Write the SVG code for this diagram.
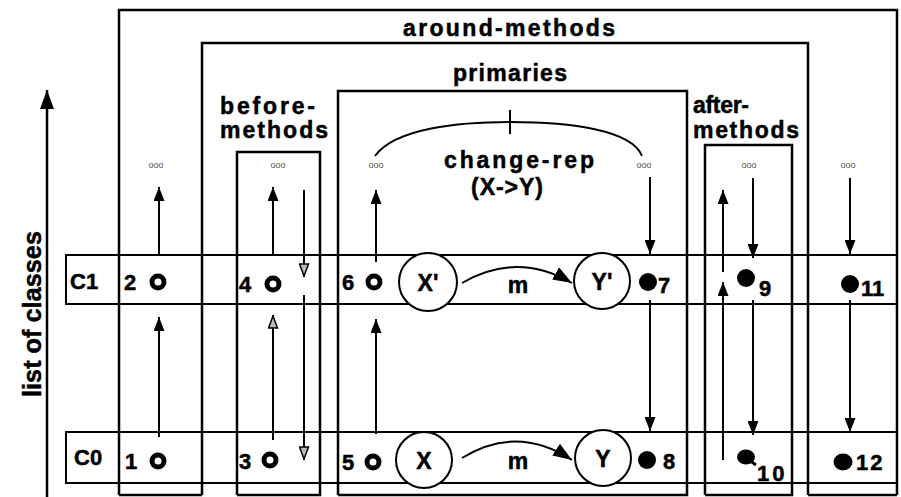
<svg xmlns="http://www.w3.org/2000/svg" width="901" height="497" viewBox="0 0 901 497">
<style>
  .box{fill:none;stroke:#000;stroke-width:2.5}
  .row{fill:none;stroke:#000;stroke-width:2}
  .t{font-family:"Liberation Sans",Arial,sans-serif;font-weight:bold;fill:#000;stroke:#000;stroke-width:0.5}
  .lbl{font-size:23px}
  .num{font-size:22px}
  .dots{font-family:"Liberation Sans",Arial,sans-serif;font-size:9px;fill:#555}
  .ar{stroke:#000;stroke-width:2;fill:none}
  .ring{fill:#fff;stroke:#000;stroke-width:5}
  .big{fill:#fff;stroke:#000;stroke-width:2}
</style>
<defs>
  <marker id="ah" markerUnits="userSpaceOnUse" markerWidth="14" markerHeight="11" refX="14" refY="5.5" orient="auto">
    <path d="M0,0 L14,5.5 L0,11 z" fill="#000"/>
  </marker>
  <marker id="ahh" markerUnits="userSpaceOnUse" markerWidth="14" markerHeight="11" refX="14" refY="5.5" orient="auto">
    <path d="M1,1 L13,5.5 L1,10 z" fill="#bbb" stroke="#000" stroke-width="1.5"/>
  </marker>
  <marker id="ahb" markerUnits="userSpaceOnUse" markerWidth="19" markerHeight="14" refX="19" refY="7" orient="auto">
    <path d="M0,0 L19,7 L0,14 z" fill="#000"/>
  </marker>
</defs>
<rect width="901" height="497" fill="#fff"/>

<g id="axis">
  <line x1="47" y1="497" x2="47" y2="90" stroke="#000" stroke-width="2.5" marker-end="url(#ahb)"/>
  <text class="t" font-size="25" transform="translate(41,314) rotate(-90)" text-anchor="middle" textLength="166" lengthAdjust="spacingAndGlyphs">list of classes</text>
</g>

<g id="around-methods">
  <path class="box" d="M119,495 V10 H897 V495 M119,495 H202 M808,495 H897"/>
  <path class="box" d="M202,495 V43 H808 V495"/>
  <text class="t" font-size="23" x="403" y="36" textLength="212" lengthAdjust="spacing">around-methods</text>
</g>

<g id="primaries">
  <path class="box" d="M338,495 V91 H687 V495 H338"/>
  <text class="t" font-size="23" x="453" y="81" textLength="114" lengthAdjust="spacing">primaries</text>
</g>

<g id="before-methods">
  <path class="box" d="M237,495 V152 H320 V495 H237"/>
  <text class="t lbl" x="220" y="114" textLength="95" lengthAdjust="spacing">before-</text>
  <text class="t lbl" x="220" y="138" textLength="108" lengthAdjust="spacing">methods</text>
</g>

<g id="after-methods">
  <path class="box" d="M705,495 V145 H792 V495 H705"/>
  <text class="t lbl" x="693" y="113" textLength="56" lengthAdjust="spacing">after-</text>
  <text class="t lbl" x="693" y="138" textLength="106" lengthAdjust="spacing">methods</text>
</g>

<g id="rows">
  <rect class="row" x="66" y="255" width="831" height="49"/>
  <rect class="row" x="66" y="432" width="831" height="51"/>
  <text class="t num" x="70" y="289">C1</text>
  <text class="t num" x="74" y="465">C0</text>
</g>

<g id="change-rep">
  <path d="M375,156 C395,128 460,122 510,122 C570,122 632,130 642,156" fill="none" stroke="#000" stroke-width="1.8"/>
  <line x1="510" y1="110" x2="510" y2="134" stroke="#000" stroke-width="2"/>
  <text class="t" font-size="23" x="519" y="168" text-anchor="middle" textLength="150" lengthAdjust="spacing">change-rep</text>
  <text class="t" font-size="23" x="507" y="195" text-anchor="middle" textLength="72" lengthAdjust="spacing">(X-&gt;Y)</text>
</g>

<g id="ellipses">
  <text class="dots" x="156" y="168" text-anchor="middle">ooo</text>
  <text class="dots" x="278" y="168" text-anchor="middle">ooo</text>
  <text class="dots" x="376" y="168" text-anchor="middle">ooo</text>
  <text class="dots" x="644" y="168" text-anchor="middle">ooo</text>
  <text class="dots" x="749" y="168" text-anchor="middle">ooo</text>
  <text class="dots" x="848" y="168" text-anchor="middle">ooo</text>
</g>

<g id="connectors">
  <line class="ar" x1="159" y1="256" x2="159" y2="187" marker-end="url(#ah)"/>
  <line class="ar" x1="159" y1="437" x2="159" y2="317" marker-end="url(#ah)"/>
  <line class="ar" x1="273" y1="256" x2="273" y2="187" marker-end="url(#ah)"/>
  <line class="ar" x1="273" y1="440" x2="273" y2="315" marker-end="url(#ahh)"/>
  <line class="ar" x1="304" y1="190" x2="304" y2="277" marker-end="url(#ahh)"/>
  <line class="ar" x1="304" y1="295" x2="304" y2="460" marker-end="url(#ahh)"/>
  <line class="ar" x1="376" y1="262" x2="376" y2="190" marker-end="url(#ah)"/>
  <line class="ar" x1="376" y1="434" x2="376" y2="319" marker-end="url(#ah)"/>
  <line class="ar" x1="650" y1="177" x2="650" y2="254" marker-end="url(#ah)"/>
  <line class="ar" x1="650" y1="300" x2="650" y2="431" marker-end="url(#ah)"/>
  <line class="ar" x1="723" y1="272" x2="723" y2="190" marker-end="url(#ah)"/>
  <line class="ar" x1="723" y1="460" x2="723" y2="282" marker-end="url(#ah)"/>
  <line class="ar" x1="753" y1="178" x2="753" y2="258" marker-end="url(#ah)"/>
  <line class="ar" x1="753" y1="300" x2="753" y2="435" marker-end="url(#ah)"/>
  <line class="ar" x1="850" y1="178" x2="850" y2="254" marker-end="url(#ah)"/>
  <line class="ar" x1="850" y1="300" x2="850" y2="432" marker-end="url(#ah)"/>
  <path class="ar" d="M462,283 Q517,251 572,283" marker-end="url(#ahb)"/>
  <path class="ar" d="M462,458 Q517,424 572,460" marker-end="url(#ahb)"/>
</g>

<g id="n2"><circle class="ring" cx="158" cy="282" r="6"/><text class="t num" x="124" y="290">2</text></g>
<g id="n1"><circle class="ring" cx="158" cy="461" r="6"/><text class="t num" x="125" y="469">1</text></g>
<g id="n4"><circle class="ring" cx="273" cy="284" r="6"/><text class="t num" x="239" y="292">4</text></g>
<g id="n3"><circle class="ring" cx="270" cy="460" r="6"/><text class="t num" x="239" y="469">3</text></g>
<g id="n6"><circle class="ring" cx="374" cy="282" r="6"/><text class="t num" x="342" y="290">6</text></g>
<g id="n5"><circle class="ring" cx="373" cy="462" r="6"/><text class="t num" x="342" y="470">5</text></g>

<g id="Xp"><circle class="big" cx="428" cy="282" r="29"/><text class="t lbl" x="428" y="291" text-anchor="middle">X'</text></g>
<g id="X"><circle class="big" cx="424" cy="460" r="28"/><text class="t lbl" x="424" y="469" text-anchor="middle">X</text></g>
<g id="Yp"><circle class="big" cx="602" cy="281" r="28"/><text class="t lbl" x="602" y="290" text-anchor="middle">Y'</text></g>
<g id="Y"><circle class="big" cx="603" cy="458" r="28"/><text class="t lbl" x="603" y="467" text-anchor="middle">Y</text></g>
<g id="m1"><text class="t lbl" x="518" y="293" text-anchor="middle">m</text></g>
<g id="m0"><text class="t lbl" x="518" y="469" text-anchor="middle">m</text></g>

<g id="n7"><circle cx="648" cy="282" r="9" fill="#000"/><text class="t num" x="658" y="293">7</text></g>
<g id="n8"><circle cx="647" cy="460" r="9" fill="#000"/><text class="t num" x="663" y="469">8</text></g>
<g id="n9"><circle cx="746" cy="278" r="9" fill="#000"/><text class="t num" x="759" y="296">9</text></g>
<g id="n10"><ellipse cx="746" cy="457" rx="9" ry="7.5" fill="#000"/><path d="M749,460 L756,465" stroke="#000" stroke-width="3"/><text class="t num" x="757" y="481" letter-spacing="3">10</text></g>
<g id="n11"><circle cx="850" cy="284" r="9" fill="#000"/><text class="t num" x="861" y="296">11</text></g>
<g id="n12"><ellipse cx="843" cy="462" rx="9.5" ry="8.5" fill="#000"/><text class="t num" x="856" y="470" letter-spacing="2">12</text></g>
</svg>
